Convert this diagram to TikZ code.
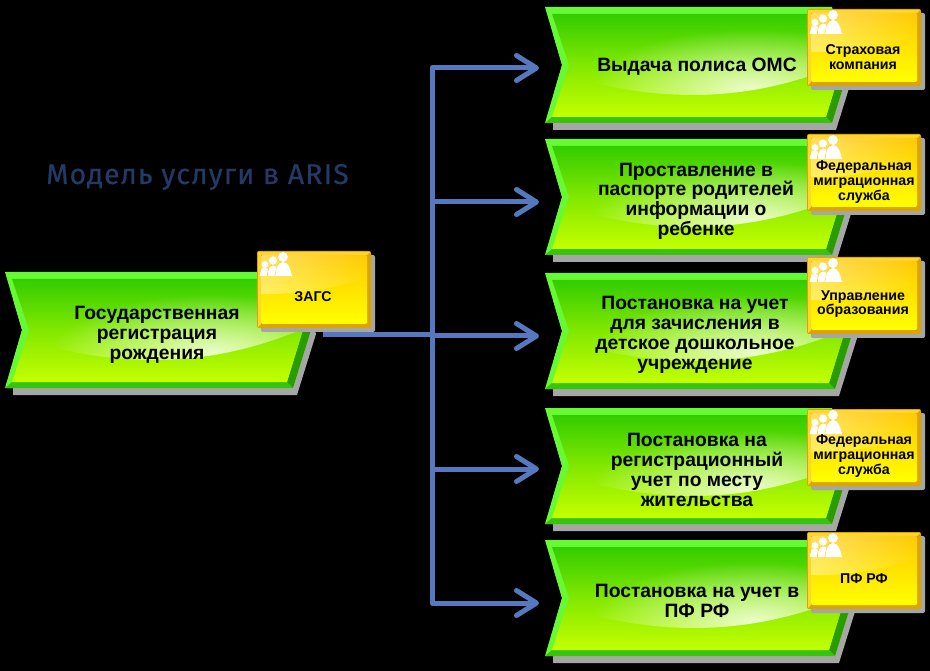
\documentclass[tikz,border=0pt]{standalone}
\usepackage{fontspec}
\setmainfont{Liberation Sans}
\newfontfamily\titlef[LetterSpace=4,FakeBold=0.5]{Fira Sans}
\usetikzlibrary{arrows.meta,fadings}
\definecolor{shgray}{HTML}{A6A6A6}
\definecolor{gbright}{HTML}{66FA33}
\definecolor{gmid}{HTML}{38C40E}
\definecolor{gdark}{HTML}{2A9C00}
\definecolor{gtop}{HTML}{33CC00}
\definecolor{gbot}{HTML}{C4FF00}
\definecolor{ydark}{HTML}{DDA400}
\definecolor{ybright}{HTML}{FFD62E}
\definecolor{ytop}{HTML}{FFC800}
\definecolor{ybot}{HTML}{FFFF00}
\definecolor{connblue}{HTML}{5578BE}
\definecolor{titleblue}{HTML}{243A66}
\tikzfading[name=glowfade,inner color=transparent!0,outer color=transparent!100]
\tikzset{
  chevtext/.style={font=\fontsize{19.3}{19.9}\bfseries\selectfont,text=black,align=center,inner sep=0pt,yshift=-1.8pt},
  orgtext/.style={font=\fontsize{14.2}{14.6}\bfseries\selectfont,text=black,align=center,inner sep=0pt},
  conn/.style={draw=connblue,line width=5pt,line join=round},
  connarrow/.style={conn,-{Straight Barb[length=20pt,width=25pt,line width=5pt,round]}}
}
% name, top, left, bottom width, text x, text y, text
\newcommand\chevshape[7]{%
  \begin{scope}[shift={(#3,#2)}]
    \fill[shgray] (8,60) -- (8,123) -- ({#4+4},123) -- ({#4+23},62) -- ({#4+5},5) -- (8,5) -- cycle;
    \fill[black] (-4,-4) -- (-4,117) -- (0,117) -- (17,58) -- (0,0) -- cycle;
    \fill[gbright] (0,0) -- (#4,0) -- ({#4+18},58) -- (#4,116) -- (0,116) -- (17,58) -- cycle;
    \fill[gmid] (0,116) -- (#4,116) -- ({#4-6},110) -- (7,110) -- cycle;
    \fill[gdark] ({#4+18},58) -- (#4,116) -- ({#4-6},110) -- ({#4+10},58) -- cycle;
    \shade[top color=gtop,bottom color=gbot,middle color=gtop!45!gbot]
      (7,7) -- ({#4-5},7) -- ({#4+10},58) -- ({#4-6},110) -- (7,110) -- (24,58) -- cycle;
    \begin{scope}
      \clip (7,7) -- ({#4-5},7) -- ({#4+10},58) -- ({#4-6},110) -- (7,110) -- (24,58) -- cycle;
      \clip ({0.12*#4},72) .. controls ({0.45*#4},98) and ({0.75*#4},92) .. ({#4+12},56) -- ({#4+40},-5) -- (0,-5) -- cycle;
      \fill[white,opacity=.8,path fading=glowfade] ({0.72*#4},82) ellipse ({0.56*#4} and 60);
    \end{scope}
  \end{scope}
  \node[chevtext] (#1) at (#5,#6) {#7};
}
% name, x, y, text x, text y, text
\newcommand\orgshape[6]{%
  \begin{scope}[shift={(#2,#3)}]
    \fill[shgray,rounded corners=2pt] (4,4) rectangle (118,81);
    \fill[ydark,rounded corners=2pt] (0,0) rectangle (114,77);
    \fill[ybright] (1,1) -- (113,1) -- (110,4) -- (4,4) -- (4,73) -- (1,76) -- cycle;
    \shade[top color=ytop,bottom color=ybot,rounded corners=1.5pt] (4,4) rectangle (110,73);
    \begin{scope}
      \clip[rounded corners=1.5pt] (4,4) rectangle (110,73);
      \clip (0,43) .. controls (35,44) and (80,38) .. (114,25) -- (114,0) -- (0,0) -- cycle;
      \fill[white,opacity=.4,path fading=east] (0,0) rectangle (114,50);
    \end{scope}
    \fill[white] (8,13.5) circle (3.4) (2.5,25) -- (4.5,18) .. controls (5.5,16.5) and (10,16.5) .. (11,18) -- (13,25) -- cycle;
    \fill[ytop] (10,25) .. controls (10.5,20) and (11,15) .. (15,14) -- (20,25) -- cycle;
    \fill[white] (16,9.5) circle (4.1) (10.7,25) .. controls (11.2,20) and (11.2,15) .. (16,14.5) .. controls (21,15) and (22,20) .. (23,25) -- cycle;
    \fill[ytop] (17.6,25) .. controls (19,18) and (20,12) .. (24,10.5) -- (30,25) -- cycle;
    \fill[white] (26,6) circle (4.9) (18.2,25) .. controls (19.2,18) and (20,11.5) .. (26,11) .. controls (32,11.5) and (33,18) .. (35,25) -- cycle;
  \end{scope}
  \node[orgtext] (#1) at (#4,#5) {#6};
}
\begin{document}
\begin{tikzpicture}[x=1pt,y=-1pt]
\useasboundingbox (0,0) rectangle (930,671);
\fill[black] (0,0) rectangle (930,671);
\node[font=\fontsize{28.5}{30}\titlef\selectfont,text=titleblue,inner sep=0pt] (title) at (197.5,177) {Модель услуги в ARIS};

\coordinate (src) at (323,335);
\coordinate (jn) at (432,335);
\coordinate (in1) at (539,68);
\coordinate (in2) at (539,202);
\coordinate (in3) at (539,336);
\coordinate (in4) at (539,469);
\coordinate (in5) at (539,603);
\draw[conn] (src) -- (jn);
\draw[connarrow] (jn) |- (in1);
\draw[connarrow] (jn) |- (in2);
\draw[connarrow] (jn) |- (in3);
\draw[connarrow] (jn) |- (in4);
\draw[connarrow] (jn) |- (in5);

\chevshape{f0}{272}{5}{288}{157}{333}{Государственная\\регистрация\\рождения}
\orgshape{o0}{257}{251}{313}{297}{ЗАГС}
\chevshape{f1}{7}{545}{287}{697}{65}{Выдача полиса ОМС}
\orgshape{o1}{807}{9}{863}{57}{Страховая\\компания}
\chevshape{f2}{139}{545}{287}{696}{199.5}{Проставление в\\паспорте родителей\\информации о\\ребенке}
\orgshape{o2}{807}{134}{864}{182}{Федеральная\\миграционная\\служба}
\chevshape{f3}{273}{545}{290}{695}{333}{Постановка на учет\\для зачисления в\\детское дошкольное\\учреждение}
\orgshape{o3}{807}{257}{863}{304}{Управление\\образования}
\chevshape{f4}{408}{545}{287}{697}{468}{Постановка на\\регистрационный\\учет по месту\\жительства}
\orgshape{o4}{807}{409}{864}{456}{Федеральная\\миграционная\\служба}
\chevshape{f5}{540}{545}{290}{697}{599}{Постановка на учет в\\ПФ РФ}
\orgshape{o5}{807}{532}{864}{579}{ПФ РФ}
\end{tikzpicture}
\end{document}
